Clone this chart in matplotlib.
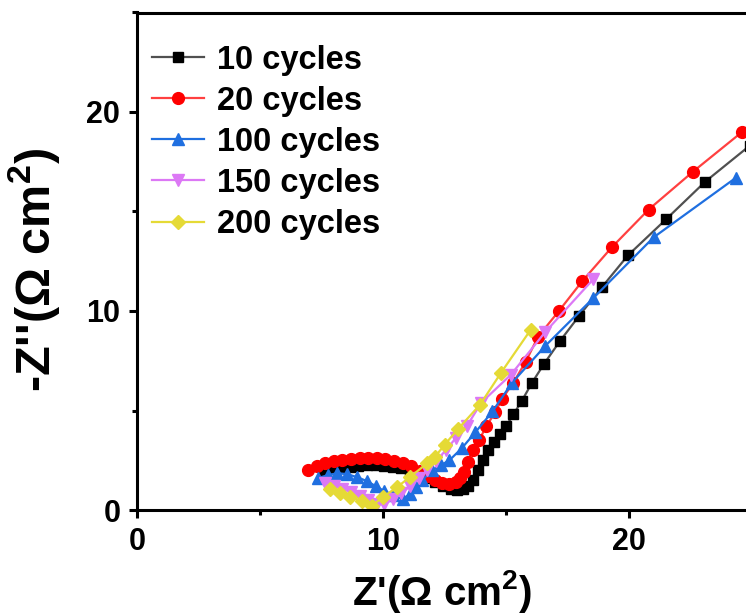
import matplotlib
matplotlib.use("Agg")
import matplotlib.pyplot as plt
from matplotlib.ticker import MultipleLocator

plt.rcParams['font.family'] = ['Liberation Sans', 'DejaVu Sans']
plt.rcParams['font.weight'] = 'bold'
plt.rcParams['mathtext.default'] = 'regular'

labels = ["10 cycles", "20 cycles", "100 cycles", "150 cycles", "200 cycles"]

x10 = [7.6, 7.95, 8.3, 8.65, 9.0, 9.35, 9.7, 10.05, 10.4, 10.75, 11.1, 11.45, 11.8, 12.1, 12.45, 12.75,
       13.0, 13.25, 13.45, 13.65, 13.85, 14.05, 14.25, 14.5, 14.75, 15.0, 15.3, 15.65, 16.06, 16.55,
       17.2, 17.97, 18.9, 19.96, 21.5, 23.1, 24.9]
y10 = [1.95, 2.05, 2.12, 2.18, 2.22, 2.24, 2.24, 2.22, 2.18, 2.1, 2.0, 1.85, 1.6, 1.4, 1.2, 1.05,
       1.0, 1.05, 1.2, 1.5, 2.0, 2.5, 3.0, 3.4, 3.8, 4.2, 4.8, 5.5, 6.4, 7.35,
       8.5, 9.75, 11.2, 12.8, 14.6, 16.5, 18.3]

x20 = [6.95, 7.3, 7.65, 8.0, 8.35, 8.7, 9.05, 9.4, 9.75, 10.1, 10.45, 10.8, 11.15, 11.5, 11.8, 12.1,
       12.4, 12.7, 12.95, 13.15, 13.3, 13.45, 13.65, 13.9, 14.2, 14.55, 14.85, 15.3, 15.8, 16.3,
       17.15, 18.1, 19.3, 20.8, 22.6, 24.6]
y20 = [2.0, 2.2, 2.35, 2.45, 2.52, 2.58, 2.62, 2.62, 2.6, 2.55, 2.48, 2.38, 2.2, 1.95, 1.7, 1.5,
       1.35, 1.3, 1.4, 1.6, 1.9, 2.4, 3.0, 3.5, 4.2, 4.9, 5.6, 6.4, 7.45, 8.7,
       10.0, 11.5, 13.2, 15.1, 17.0, 19.0]

x100 = [7.35, 7.75, 8.15, 8.55, 8.95, 9.35, 9.7, 10.05, 10.4, 10.8, 11.1, 11.35, 11.6, 12.0, 12.35,
        12.7, 13.2, 13.75, 14.45, 15.25, 16.6, 18.55, 21.0, 24.35]
y100 = [1.6, 1.75, 1.85, 1.8, 1.65, 1.45, 1.2, 0.95, 0.75, 0.55, 0.8, 1.15, 1.5, 2.0, 2.25,
        2.5, 3.1, 3.9, 4.95, 6.4, 8.25, 10.65, 13.7, 16.7]

x150 = [7.65, 8.0, 8.35, 8.7, 9.05, 9.4, 9.75, 10.05, 10.4, 10.75, 11.1, 11.45, 11.8, 12.15, 12.55,
        12.95, 13.4, 14.0, 15.2, 16.6, 18.55]
y150 = [1.35, 1.2, 1.05, 0.9, 0.7, 0.5, 0.3, 0.3, 0.55, 0.85, 1.2, 1.6, 2.0, 2.45, 3.0,
        3.6, 4.2, 5.4, 6.8, 8.95, 11.6]

x200 = [7.85, 8.25, 8.66, 9.15, 9.55, 10.0, 10.57, 11.1, 11.8, 12.1, 12.5, 13.05, 13.95, 14.8, 16.0]
y200 = [1.05, 0.85, 0.65, 0.45, 0.22, 0.65, 1.15, 1.66, 2.35, 2.65, 3.27, 4.07, 5.3, 6.9, 9.05]

W, H = 746, 615
fig = plt.figure(figsize=(W / 100, H / 100), dpi=100)
ax = fig.add_axes([137 / W, 105 / H, 609 / W, 497.5 / H])

series = [
    (x10, y10, 's', '#000000', '#505050', 7.0),
    (x20, y20, 'o', '#ff0000', '#ff4040', 8.5),
    (x100, y100, '^', '#1f6fe0', '#1f6fe0', 9.0),
    (x150, y150, 'v', '#dc78f5', '#dc78f5', 9.0),
    (x200, y200, 'D', '#e5da36', '#e5da36', 7.5),
]
for (xs, ys, mk, mc, lc, ms), lab in zip(series, labels):
    ax.plot(xs, ys, color=lc, lw=1.6, marker=mk, ms=ms, mfc=mc, mec=mc, label=lab)

ax.set_xlim(0, 609 / 24.6)
ax.set_ylim(0, 25)
ax.xaxis.set_major_locator(MultipleLocator(10))
ax.xaxis.set_minor_locator(MultipleLocator(5))
ax.yaxis.set_major_locator(MultipleLocator(10))
ax.yaxis.set_minor_locator(MultipleLocator(5))
ax.spines['right'].set_visible(False)
for s in ['left', 'bottom', 'top']:
    ax.spines[s].set_linewidth(2.2)
ax.tick_params(which='major', direction='out', length=6, width=2.2, labelsize=22, pad=6)
ax.tick_params(which='minor', direction='out', length=3.5, width=2.2)
for t in ax.get_xticklabels() + ax.get_yticklabels():
    t.set_fontweight('bold')

ax.set_xlabel("Z'(Ω cm$^2$)", fontsize=29, fontweight='bold', labelpad=8)
ax.set_ylabel("-Z''(Ω cm$^2$)", fontsize=35, fontweight='bold')
ax.yaxis.set_label_coords((62 - 137) / 609, (510 - 270) / 497.5)

leg = ax.legend(loc='upper left', bbox_to_anchor=(15 / 609, 1 - 32 / 497.5), frameon=False,
                borderpad=0, borderaxespad=0, handlelength=1.6, handletextpad=0.4,
                labelspacing=0.31, prop={'weight': 'bold', 'size': 23.5})

fig.savefig("out.png", dpi=100)
